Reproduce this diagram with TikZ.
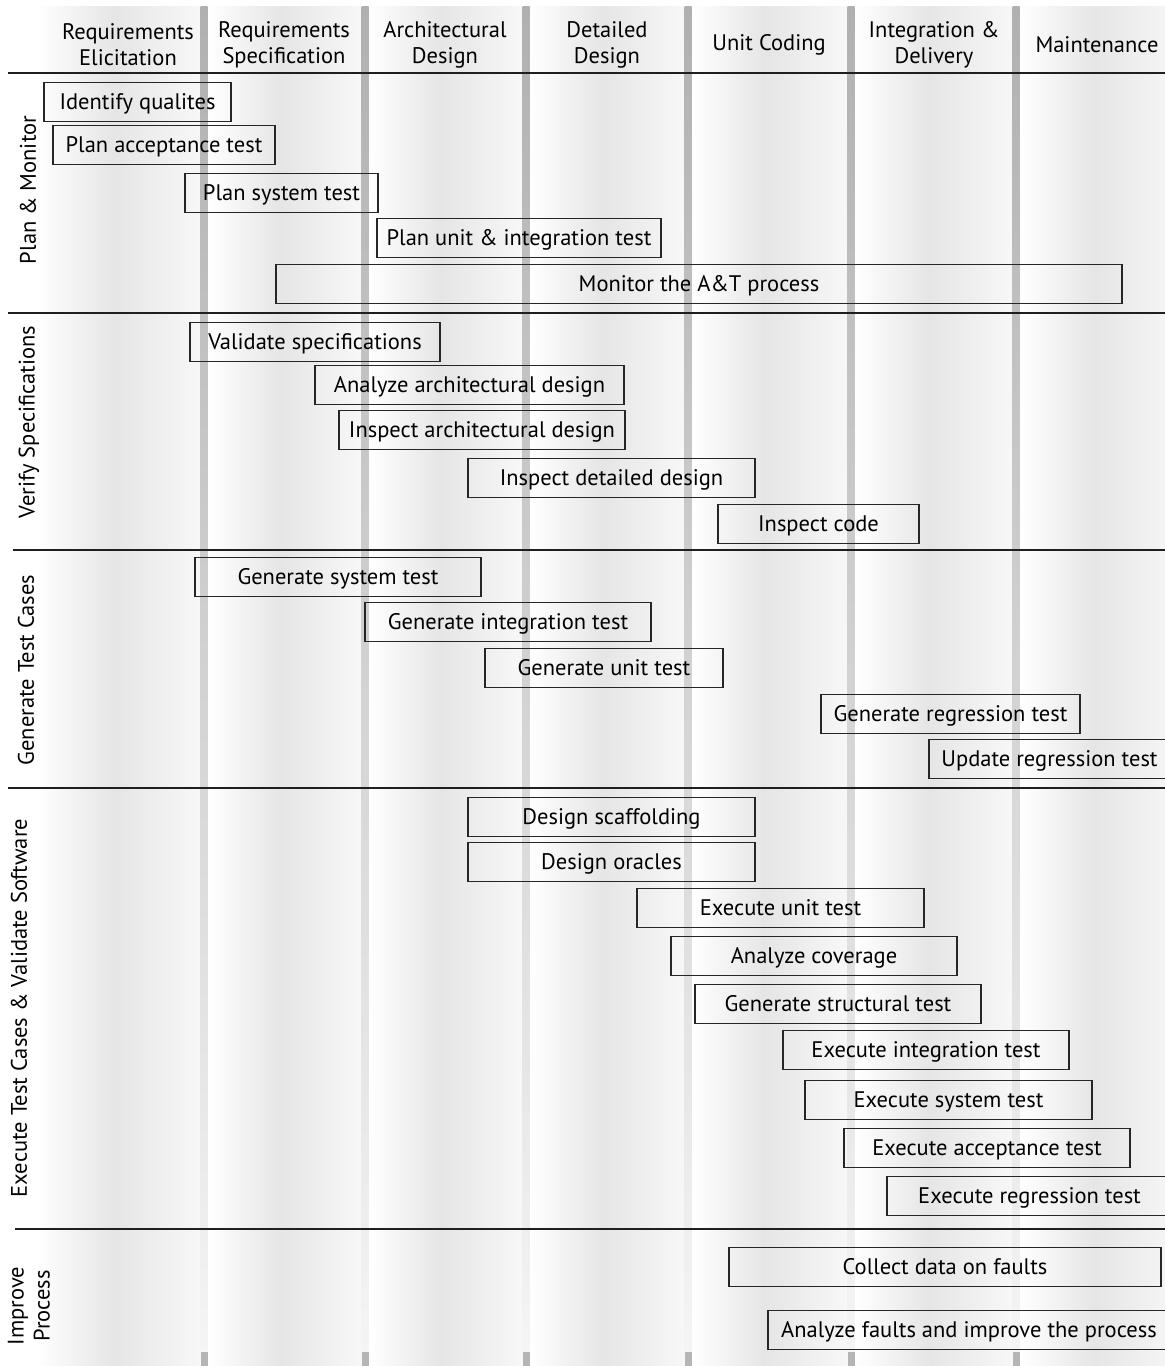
\documentclass[tikz,border=0pt]{standalone}
\usepackage{fontspec}
\setmainfont{PT Sans}
\newcommand{\taskfnt}{\fontsize{22.5}{26}\selectfont}
\newcommand{\taskbox}[5]{\node[taskbx, minimum width={#3-#2}, minimum height=39] (#1) at ({(#2+#3)/2},#4) {#5};}
\begin{document}
\begin{tikzpicture}[x=1pt,y=-1pt,
  taskbx/.style={draw=black!85, line width=1.3pt, inner sep=0pt, font=\taskfnt, text=black, text height=19pt, text depth=3.5pt},
  lane/.style={rotate=90, font=\taskfnt, align=center, inner sep=0pt},
  colhead/.style={font=\taskfnt, align=center, inner sep=0pt},
  sepline/.style={draw=black!88, line width=1.5pt}]
\useasboundingbox (0,0) rectangle (1165,1366);
\fill[white] (0,0) rectangle (1165,1366);
% column backgrounds
\foreach \a/\b in {36/201, 207/362, 368/523, 529/685, 691/848, 854/1013, 1019/1180} {
  \pgfmathsetmacro\m{\a+0.47*(\b-\a)}
  \shade[left color=white, right color=black!10] (\a,6) rectangle (\m,1366);
  \shade[left color=black!10, right color=black!3] (\m,6) rectangle (\b,1366);
}
% bars
\foreach \x in {204,365,526,688,851,1016} {
  \shade[top color=black!31, bottom color=black!4] (\x-3.5,6) rectangle (\x+3.5,1352);
  \fill[black!29] (\x-3.5,1352) rectangle (\x+3.5,1366);
}
% separators
\draw[sepline] (8,73) -- (1165,73);
\draw[sepline] (8,313) -- (1165,313);
\draw[sepline] (13,550) -- (1165,550);
\draw[sepline] (8,788) -- (1165,788);
\draw[sepline] (15,1229) -- (1165,1229);
% column headers
\node[colhead] (h1) at (128,45) {Requirements\\Elicitation};
\node[colhead] (h2) at (284,45) {Requirements\\Specification};
\node[colhead] (h3) at (445,45) {Architectural\\Design};
\node[colhead] (h4) at (607,45) {Detailed\\Design};
\node[colhead] (h5) at (769,45) {Unit Coding};
\node[colhead] (h6) at (934,45) {Integration \&\\Delivery};
\node[colhead] (h7) at (1097,45) {Maintenance};
% lane labels
\node[lane] (l1) at (28,190) {Plan \& Monitor};
\node[lane] (l2) at (29,422) {Verify Specifications};
\node[lane] (l3) at (26,670) {Generate Test Cases};
\node[lane] (l4) at (19,1008) {Execute Test Cases \& Validate Software};
\node[lane] (l5) at (29,1306) {Improve\\Process};
% tasks
\taskbox{t1}{44}{231}{102}{Identify qualites}
\taskbox{t2}{53}{275}{145}{Plan acceptance test}
\taskbox{t3}{185}{378}{193}{Plan system test}
\taskbox{t4}{377}{661}{238}{Plan unit \& integration test}
\taskbox{t5}{276}{1122}{284}{Monitor the A\&T process}
\taskbox{t6}{190}{440}{342}{Validate specifications}
\taskbox{t7}{315}{624}{385}{Analyze architectural design}
\taskbox{t8}{339}{625}{430}{Inspect architectural design}
\taskbox{t9}{468}{755}{478}{Inspect detailed design}
\taskbox{t10}{718}{919}{524}{Inspect code}
\taskbox{t11}{195}{481}{577}{Generate system test}
\taskbox{t12}{365}{651}{622}{Generate integration test}
\taskbox{t13}{485}{723}{668}{Generate unit test}
\taskbox{t14}{821}{1080}{714}{Generate regression test}
\taskbox{t15}{929}{1170}{759}{Update regression test}
\taskbox{t16}{468}{755}{817}{Design scaffolding}
\taskbox{t17}{468}{755}{862}{Design oracles}
\taskbox{t18}{637}{924}{908}{Execute unit test}
\taskbox{t19}{671}{957}{956}{Analyze coverage}
\taskbox{t20}{695}{981}{1004}{Generate structural test}
\taskbox{t21}{783}{1069}{1050}{Execute integration test}
\taskbox{t22}{805}{1092}{1100}{Execute system test}
\taskbox{t23}{844}{1130}{1148}{Execute acceptance test}
\taskbox{t24}{887}{1172}{1196}{Execute regression test}
\taskbox{t25}{729}{1161}{1267}{Collect data on faults}
\taskbox{t26}{768}{1170}{1330}{Analyze faults and improve the process}
\end{tikzpicture}
\end{document}
